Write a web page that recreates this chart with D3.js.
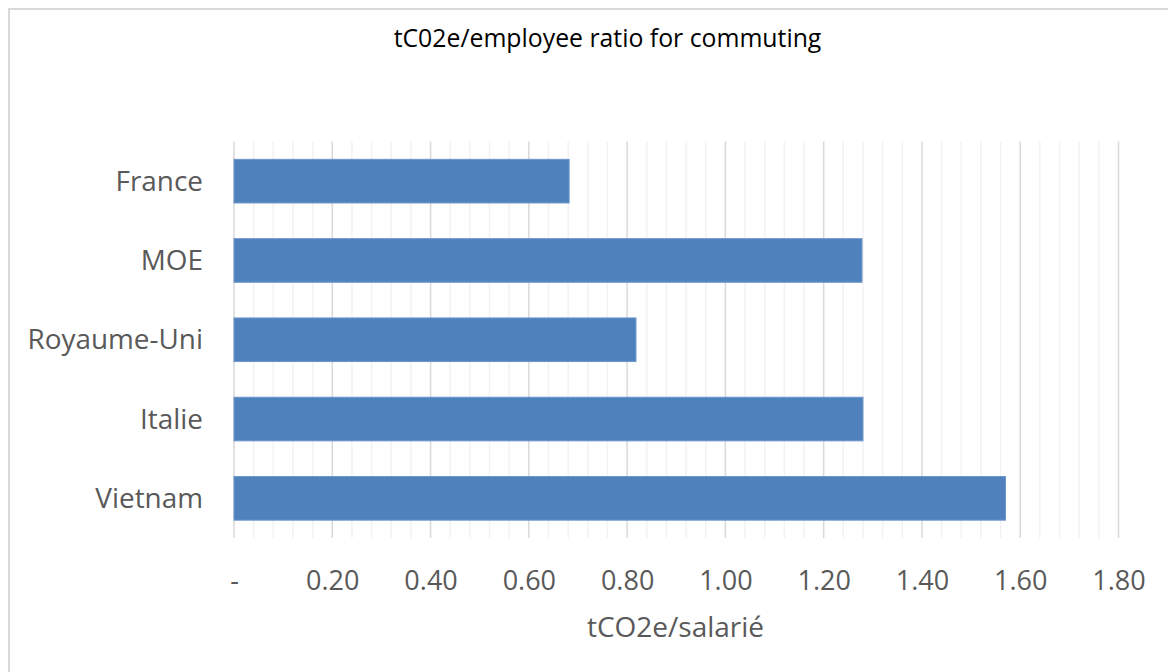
<!DOCTYPE html>
<html><head><meta charset="utf-8">
<script src="https://cdn.jsdelivr.net/npm/d3@7"></script>
<style>
html,body{margin:0;padding:0;background:#fff;}
svg{display:block;}
text{font-family:"Open Sans",sans-serif;}
</style></head>
<body>
<svg id="chart" width="1168" height="672"></svg>
<script>
const categories = ["France","MOE","Royaume-Uni","Italie","Vietnam"];
const values = [0.682, 1.278, 0.818, 1.280, 1.570];
const majorTicks = [0,0.2,0.4,0.6,0.8,1.0,1.2,1.4,1.6,1.8];
const minorTicks = d3.range(0,46).map(i=>i*0.04);
const title = "tC02e/employee ratio for commuting";
const xTitle = "tCO2e/salarié";

(function(){
const FONT = "'Open Sans',sans-serif";
const svg = d3.select("#chart");
svg.append("rect").attr("x",9).attr("y",9).attr("width",1168).attr("height",672)
  .attr("fill","#fff").attr("stroke","#d9d9d9").attr("stroke-width",2);

const pLeft=234, pRight=1118.5, pTop=141.5, pBottom=538;
const x = d3.scaleLinear().domain([0,1.8]).range([pLeft,pRight]);
const y = d3.scaleBand().domain(categories).range([pTop,pBottom]).paddingInner(0.45).paddingOuter(0.225);

svg.append("g").selectAll("line").data(minorTicks.filter(t=>Math.abs(t/0.2-Math.round(t/0.2))>1e-6)).join("line")
  .attr("x1",d=>x(d)).attr("x2",d=>x(d)).attr("y1",pTop).attr("y2",pBottom)
  .attr("stroke","#f2f2f2").attr("stroke-width",1.5);
svg.append("g").selectAll("line").data(majorTicks).join("line")
  .attr("x1",d=>x(d)).attr("x2",d=>x(d)).attr("y1",pTop).attr("y2",pBottom)
  .attr("stroke","#d9d9d9").attr("stroke-width",1.5);

svg.append("g").selectAll("rect").data(categories).join("rect")
  .attr("x",x(0)).attr("y",d=>y(d)).attr("height",y.bandwidth())
  .attr("width",(d,i)=>x(values[i])-x(0))
  .attr("fill","#4f81bd").attr("stroke","#6d97cb").attr("stroke-width",1);

const xAxis = d3.axisBottom(x).tickValues(majorTicks).tickSize(0).tickPadding(0)
  .tickFormat(d=>d===0?"-":d3.format(".2f")(d));
const gx = svg.append("g").attr("transform",`translate(0,${pBottom})`).call(xAxis);
gx.select(".domain").remove();
gx.selectAll("text").attr("dy",0).attr("y",52).attr("font-size",27).attr("fill","#595959")
  .style("font-family",FONT);

const yAxis = d3.axisLeft(y).tickSize(0).tickPadding(31);
const gy = svg.append("g").attr("transform",`translate(${pLeft},0)`).call(yAxis);
gy.select(".domain").remove();
gy.selectAll("text").attr("font-size",27.9).attr("dy","0.34em").attr("fill","#595959")
  .style("font-family",FONT);

svg.append("text").attr("x",607.5).attr("y",47).attr("text-anchor","middle")
  .attr("font-size",24.8).attr("fill","#000").style("font-family",FONT).text(title);
svg.append("text").attr("x",675.5).attr("y",637).attr("text-anchor","middle")
  .attr("font-size",28).attr("fill","#595959").style("font-family",FONT).text(xTitle);
})();
</script>
</body></html>
